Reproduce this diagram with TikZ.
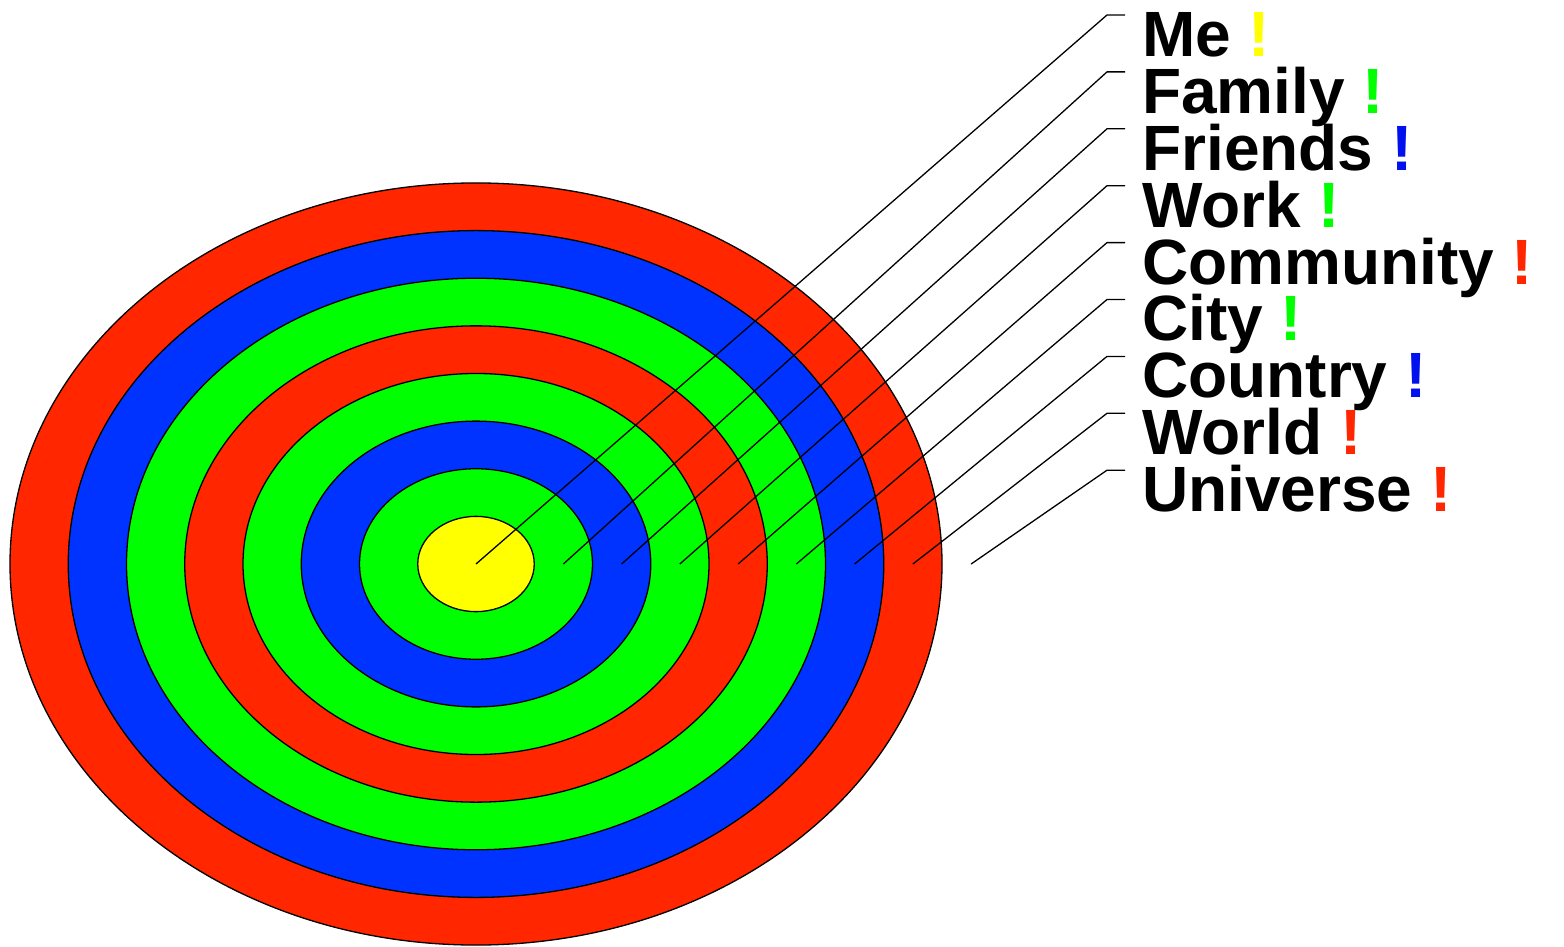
\documentclass[tikz,border=0pt]{standalone}
\usepackage{fontspec}
\setmainfont{Liberation Sans}
\definecolor{ured}{HTML}{FF2600}
\definecolor{ublue}{HTML}{0033FF}
\definecolor{ugreen}{HTML}{00FF00}
\definecolor{uyellow}{HTML}{FFFF00}
\definecolor{xblue}{HTML}{0011EE}
\tikzset{
  ring/.style={draw=black, line width=1.3pt},
  leader/.style={draw=black, line width=1.3pt, line join=round},
  lab/.style={anchor=base west, inner sep=0pt, text height=47pt, text depth=8pt, font=\fontsize{64}{64}\selectfont\bfseries}
}
\begin{document}
\begin{tikzpicture}[x=1pt,y=-1pt]
\useasboundingbox (0,0) rectangle (1564,947);
\coordinate (c) at (476,564);
\foreach \k/\col in {8/ured,7/ublue,6/ugreen,5/ured,4/ugreen,3/ublue,2/ugreen,1/uyellow}{
  \path[ring, fill=\col] (c) ellipse ({58.25*\k} and {47.63*\k});
}
\foreach \i/\txt/\col in {1/Me/uyellow,2/Family/ugreen,3/Friends/xblue,4/Work/ugreen,5/Community/ured,6/City/ugreen,7/Country/xblue,8/World/ured,9/Universe/ured}{
  \pgfmathsetmacro{\sx}{ifthenelse(\i==1,476,476+58.25*(\i-0.5))}
  \pgfmathsetmacro{\ly}{15+56.9*(\i-1)}
  \pgfmathsetmacro{\by}{57+56.75*(\i-1)}
  \coordinate (s\i) at (\sx,564);
  \coordinate (b\i) at (1107,\ly);
  \coordinate (e\i) at (1125,\ly);
  \node[lab] (l\i) at (1142,\by) {\txt\ \textcolor{\col}{!}};
  \draw[leader] (s\i) -- (b\i) -- (e\i);
}
\end{tikzpicture}
\end{document}
